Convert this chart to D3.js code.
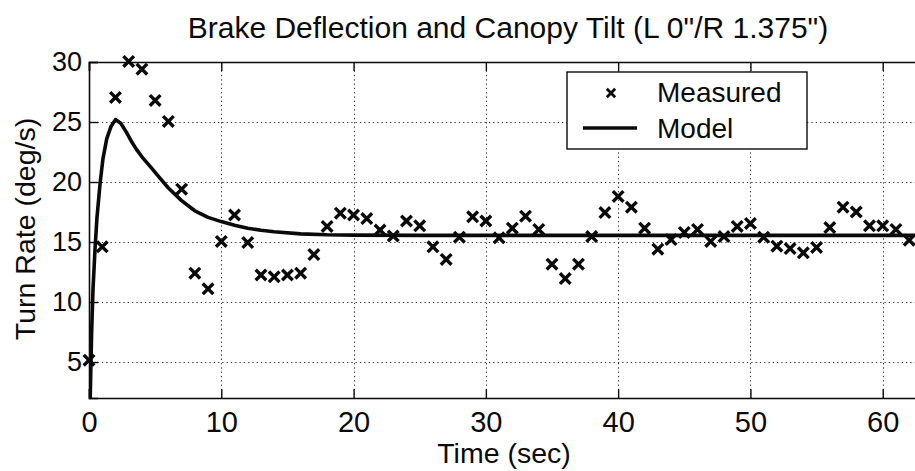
<!DOCTYPE html>
<html>
<head>
<meta charset="utf-8">
<script src="https://cdn.jsdelivr.net/npm/d3@7"></script>
<style>
  html, body { margin: 0; padding: 0; background: #fff; }
  svg { display: block; font-family: "Liberation Sans", Arial, Helvetica, sans-serif; }
</style>
</head>
<body>
<svg id="chart" width="915" height="471"></svg>
<script>
// ---- data ----
const measuredTime = [0,1,2,3,4,5,6,7,8,9,10,11,12,13,14,15,16,17,18,19,20,21,22,23,24,25,26,27,28,29,30,31,32,33,34,35,36,37,38,39,40,41,42,43,44,45,46,47,48,49,50,51,52,53,54,55,56,57,58,59,60,61,62];
const measuredRate = [5.15,14.6,27.05,30.05,29.4,26.8,25.05,19.4,12.4,11.1,15.05,17.25,14.95,12.25,12.1,12.25,12.4,13.95,16.3,17.4,17.25,16.95,16.0,15.5,16.75,16.35,14.6,13.55,15.4,17.1,16.75,15.35,16.15,17.15,16.05,13.15,11.95,13.15,15.45,17.45,18.8,17.9,16.15,14.4,15.2,15.8,16.05,15.05,15.45,16.3,16.55,15.4,14.65,14.45,14.1,14.55,16.2,17.9,17.5,16.35,16.35,16.05,15.15];
const modelTime = [0,0.1,0.2,0.3,0.45,0.6,0.83,1.05,1.34,1.65,2.0,2.4,2.8,3.2,3.6,4.0,4.7,5.3,6.0,7.0,8.0,9.0,10.0,11.0,12.0,13.0,14.0,16.0,18.0,20.0,25.0,30.0,63.0];
const modelRate  = [-2,2.5,7.5,11.0,14.3,17.0,19.8,21.9,23.6,24.6,25.2,24.9,24.2,23.4,22.7,22.1,21.2,20.4,19.5,18.45,17.6,17.05,16.7,16.4,16.15,15.98,15.85,15.68,15.6,15.57,15.55,15.55,15.55];
const xTicks = [0,10,20,30,40,50,60];
const yTicks = [5,10,15,20,25,30];
const titleText = "Brake Deflection and Canopy Tilt (L 0\"/R 1.375\")";
const xLabel = "Time (sec)";
const yLabel = "Turn Rate (deg/s)";
const legendLabels = ["Measured", "Model"];

// ---- layout ----
const svg = d3.select("#chart");
const L = 89, R = 922.4, T = 62, B = 398;
const x = d3.scaleLinear().domain([0, 63]).range([L, R]);
const y = d3.scaleLinear().domain([2, 30]).range([B, T]);
const ink = "#0a0a0a";

svg.append("defs").append("clipPath").attr("id", "plotclip")
  .append("rect").attr("x", L).attr("y", T).attr("width", R - L).attr("height", B - T);

// grid
const grid = svg.append("g").attr("stroke", "#333").attr("stroke-width", 1)
  .attr("stroke-dasharray", "1.3,3");
grid.selectAll("line.gx").data(xTicks.filter(d => d > 0)).join("line")
  .attr("x1", d => Math.round(x(d)) + 0.5).attr("x2", d => Math.round(x(d)) + 0.5)
  .attr("y1", T).attr("y2", B);
grid.selectAll("line.gy").data(yTicks.filter(d => d < 30)).join("line")
  .attr("y1", d => Math.round(y(d)) + 0.5).attr("y2", d => Math.round(y(d)) + 0.5)
  .attr("x1", L).attr("x2", R);

// axes (box with inward ticks)
const xAxisB = d3.axisBottom(x).tickValues(xTicks).tickSize(-9).tickPadding(13).tickFormat(d3.format("d"));
const xAxisT = d3.axisTop(x).tickValues(xTicks).tickSize(-9).tickFormat("");
const yAxisL = d3.axisLeft(y).tickValues(yTicks).tickSize(-9).tickPadding(7).tickFormat(d3.format("d"));

const gxB = svg.append("g").attr("transform", `translate(0,${B})`).call(xAxisB);
const gxT = svg.append("g").attr("transform", `translate(0,${T})`).call(xAxisT);
const gyL = svg.append("g").attr("transform", `translate(${L},0)`).call(yAxisL);
[gxB, gxT, gyL].forEach(g => {
  g.select(".domain").attr("stroke", ink).attr("stroke-width", 1.6);
  g.selectAll(".tick line").attr("stroke", ink).attr("stroke-width", 1.4);
});
gxB.selectAll(".tick text").attr("fill", ink).attr("font-size", 29)
  .attr("font-family", "'Liberation Sans', Arial, sans-serif");
gyL.selectAll(".tick text").attr("fill", ink).attr("font-size", 27)
  .attr("font-family", "'Liberation Sans', Arial, sans-serif");

// model line
const line = d3.line().x((d, i) => x(modelTime[i])).y(d => y(d));
svg.append("path").datum(modelRate)
  .attr("clip-path", "url(#plotclip)")
  .attr("d", line).attr("fill", "none").attr("stroke", ink)
  .attr("stroke-width", 3.6).attr("stroke-linejoin", "round");

// measured markers
const cross = (s) => `M${-s},${-s}L${s},${s}M${-s},${s}L${s},${-s}`;
svg.append("g").selectAll("path.m").data(measuredRate).join("path")
  .attr("transform", (d, i) => `translate(${x(measuredTime[i])},${y(d)})`)
  .attr("d", cross(5.3)).attr("stroke", ink).attr("stroke-width", 3.4).attr("fill", "none");

// title and labels
svg.append("text").attr("x", 508).attr("y", 38).attr("text-anchor", "middle")
  .attr("font-size", 30).attr("fill", ink).text(titleText);
svg.append("text").attr("x", 504).attr("y", 463).attr("text-anchor", "middle")
  .attr("font-size", 28.5).attr("fill", ink).text(xLabel);
svg.append("text").attr("transform", "translate(35,229) rotate(-90)").attr("text-anchor", "middle")
  .attr("font-size", 28.5).attr("fill", ink).text(yLabel);

// legend
const lg = svg.append("g");
lg.append("rect").attr("x", 567).attr("y", 72).attr("width", 240).attr("height", 77)
  .attr("fill", "#fff").attr("stroke", ink).attr("stroke-width", 1.4);
lg.append("path").attr("transform", "translate(611,93)").attr("d", cross(4.2))
  .attr("stroke", ink).attr("stroke-width", 2.8).attr("fill", "none");
lg.append("line").attr("x1", 583).attr("x2", 637).attr("y1", 128).attr("y2", 128)
  .attr("stroke", ink).attr("stroke-width", 3.6);
lg.selectAll("text.l").data(legendLabels).join("text")
  .attr("x", 657).attr("y", (d, i) => i === 0 ? 102 : 138)
  .attr("font-size", 28).attr("fill", ink).text(d => d);
</script>
</body>
</html>
